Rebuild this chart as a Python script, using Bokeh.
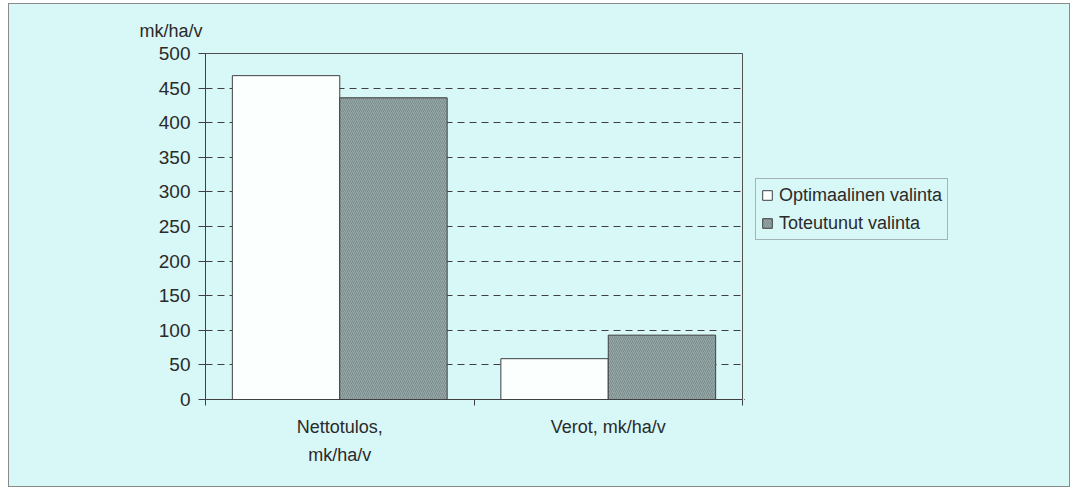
import numpy as np
from bokeh.plotting import figure
from bokeh.layouts import row
from bokeh.models import (Range1d, LinearAxis, FixedTicker, Legend, LegendItem,
                          Title, ColumnDataSource)
from bokeh.embed import file_html
from bokeh.resources import INLINE

categories = ["Nettotulos,\nmk/ha/v", "Verot, mk/ha/v"]
series_names = ["Optimaalinen valinta", "Toteutunut valinta"]
optimaalinen = [468, 59]
toteutunut = [436, 93]
y_ticks = [0, 50, 100, 150, 200, 250, 300, 350, 400, 450, 500]
y_label = "mk/ha/v"

BG = "#d8f7f7"
FONT = "Liberation Sans"
TXT = "#2a2a2a"
WHITE_BAR = dict(fill_color="#fbfffe", line_color="#404040", line_width=1)
GREY_BAR = dict(fill_color="#97a9a9", line_color="#404040", line_width=1,
                hatch_pattern="/", hatch_color="#7a8b8b", hatch_scale=4, hatch_weight=1)

idx = np.arange(len(categories))
src = ColumnDataSource(dict(x_opt=idx + 0.5 - 0.2, x_tot=idx + 0.5 + 0.2,
                            opt=optimaalinen, tot=toteutunut))

p = figure(width=735, height=482, output_backend="svg", toolbar_location=None,
           x_range=Range1d(0, len(categories)), y_range=Range1d(0, 500),
           min_border_left=196, min_border_right=2, min_border_top=49,
           min_border_bottom=87)
p.background_fill_color = BG
p.border_fill_color = BG
p.outline_line_color = "#505050"
p.outline_line_width = 1

p.vbar(x="x_opt", top="opt", width=0.4, source=src, **WHITE_BAR)
p.vbar(x="x_tot", top="tot", width=0.4, source=src, **GREY_BAR)

ya = p.yaxis[0]
ya.ticker = FixedTicker(ticks=y_ticks)
ya.major_label_text_font = FONT
ya.major_label_text_font_size = "19px"
ya.major_label_text_color = TXT
ya.axis_line_color = "#404040"
ya.major_tick_line_color = "#404040"
ya.major_tick_out = 7
ya.major_tick_in = 0
ya.minor_tick_line_color = None
ya.major_label_standoff = 8

xa = p.xaxis[0]
xa.ticker = FixedTicker(ticks=list(range(len(categories) + 1)))
xa.major_label_text_font_size = "0px"
xa.axis_line_color = "#404040"
xa.major_tick_line_color = "#404040"
xa.major_tick_out = 6
xa.major_tick_in = 0
xa.minor_tick_line_color = None
xa.major_label_standoff = 0

xa2 = LinearAxis(ticker=FixedTicker(ticks=list(idx + 0.5)),
                 major_label_overrides={float(i + 0.5): c for i, c in enumerate(categories)})
xa2.axis_line_color = None
xa2.major_tick_line_color = None
xa2.minor_tick_line_color = None
xa2.major_label_text_font = FONT
xa2.major_label_text_font_size = "18px"
xa2.major_label_text_color = TXT
xa2.major_label_text_line_height = 1.4
xa2.major_label_standoff = 5
p.add_layout(xa2, "below")

p.xgrid.grid_line_color = None
p.ygrid.ticker = FixedTicker(ticks=y_ticks[1:-1])
p.ygrid.grid_line_color = "#404040"
p.ygrid.grid_line_dash = "7 5"
p.ygrid.grid_line_width = 1

p.add_layout(Title(text=y_label, align="left", offset=-66, standoff=26,
                   text_font=FONT, text_font_size="18px", text_font_style="normal",
                   text_color=TXT), "above")

# legend panel (its glyph renderers lie entirely outside this panel's visible ranges)
p2 = figure(width=325, height=482, output_backend="svg", toolbar_location=None,
            x_range=Range1d(100, 101), y_range=Range1d(10000, 10001),
            x_axis_location=None, y_axis_location=None, min_border=0)
p2.background_fill_color = BG
p2.border_fill_color = BG
p2.outline_line_color = None
p2.grid.grid_line_color = None
l1 = p2.vbar(x="x_opt", top="opt", width=0.4, source=src, **WHITE_BAR)
l2 = p2.vbar(x="x_tot", top="tot", width=0.4, source=src, **GREY_BAR)

legend = Legend(items=[LegendItem(label=series_names[0], renderers=[l1], index=0),
                       LegendItem(label=series_names[1], renderers=[l2], index=0)],
                location=(11, 159), orientation="vertical")
legend.label_text_font = FONT
legend.label_text_font_size = "18px"
legend.label_text_color = TXT
legend.glyph_width = 12
legend.glyph_height = 12
legend.label_height = 22
legend.label_standoff = 6
legend.spacing = 6
legend.padding = 5
legend.margin = 0
legend.background_fill_color = BG
legend.background_fill_alpha = 1
legend.border_line_color = "#707070"
p2.add_layout(legend)

layout = row(p, p2)
layout.styles = {"border": "1px solid #8a8a8a", "margin-left": "8px",
                 "margin-top": "3px", "background-color": BG}

open("out.html", "w").write(file_html(layout, INLINE))
